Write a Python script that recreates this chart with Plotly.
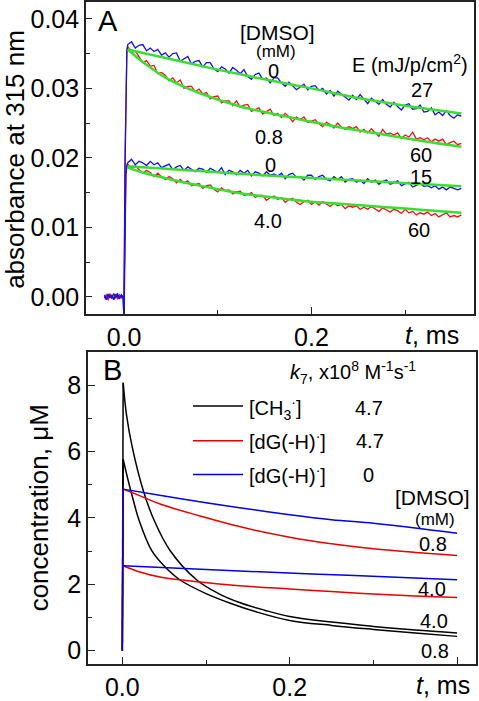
import numpy as np
import plotly.graph_objects as go

FONT = "Liberation Sans, Arial, sans-serif"
W, H = 479, 701

# ---------------- Panel A data (absorbance x 1e3, mOD) ----------------
t_pre = [-0.021, -0.019, -0.017, -0.015, -0.013, -0.011, -0.009, -0.007, -0.005, -0.003, -0.001]
t_rise = [0.0, 0.001, 0.002, 0.003]
t_main = np.round(np.arange(1, 91) * 0.004, 3).tolist()
t_A = t_pre + t_rise + t_main

blue_0_E27 = [0.2, -0.3, 0.4, -0.1, 0.3, -0.4, 0.1, 0.5, -0.2, 0.2, -0.1,
              -3.5, 18.0, 31.0, 35.5,
              36.3, 36.7, 35.8, 36.2, 36.3, 35.4, 35.8, 35.3, 35.6, 34.8,
              35.1, 34.5, 35.0, 35.1, 33.9, 34.3, 34.6, 33.5, 33.9, 34.0,
              33.1, 33.7, 33.7, 32.8, 32.4, 33.1, 32.8, 32.2, 33.0, 32.6,
              32.1, 32.7, 31.7, 31.3, 32.0, 32.2, 31.3, 31.5, 30.8, 31.5,
              31.5, 30.8, 30.3, 30.9, 30.3, 29.8, 30.2, 30.6, 29.8, 30.3,
              30.4, 29.7, 30.0, 29.2, 29.7, 28.9, 29.6, 29.2, 28.7, 28.3,
              29.0, 28.4, 29.1, 28.4, 27.8, 28.6, 28.2, 27.7, 28.4, 27.7,
              27.3, 28.0, 27.4, 26.9, 27.6, 27.8, 27.0, 27.1, 27.6, 26.6,
              26.7, 27.2, 26.2, 26.6, 26.1, 26.8, 26.1, 25.7, 26.2, 26.0]

red_08_E60 = [-0.2, 0.3, -0.1, 0.4, 0.0, -0.3, 0.2, -0.1, 0.3, -0.2, 0.1,
              0.0, 20.0, 31.5, 35.0,
              36.0, 35.1, 35.4, 34.5, 33.7, 34.0, 33.2, 33.3, 32.1, 32.3,
              31.9, 31.1, 31.5, 30.8, 31.2, 30.0, 30.3, 30.3, 29.5, 29.9,
              29.2, 29.4, 28.5, 28.8, 28.9, 27.9, 28.2, 28.2, 27.5, 28.2,
              27.3, 27.6, 27.7, 26.7, 26.9, 27.2, 26.3, 26.7, 27.0, 26.1,
              26.4, 25.8, 26.4, 25.9, 25.2, 25.9, 25.5, 25.9, 25.1, 25.3,
              25.5, 24.9, 24.5, 25.1, 24.8, 24.3, 25.0, 24.4, 24.1, 24.5,
              24.2, 24.5, 23.7, 24.1, 23.6, 24.2, 23.7, 23.1, 24.1, 23.4,
              23.6, 23.3, 23.6, 22.8, 23.3, 23.0, 23.7, 22.7, 22.9, 22.6,
              22.9, 22.3, 22.7, 22.4, 22.7, 21.9, 22.2, 22.4, 21.9, 22.1]

blue_0_E15 = [0.1, -0.4, 0.3, 0.0, -0.2, 0.5, -0.1, 0.2, -0.3, 0.3, 0.0,
              -3.5, 10.0, 17.5, 19.0,
              19.3, 19.8, 19.0, 19.5, 19.3, 18.9, 19.5, 19.0, 19.3, 18.6,
              18.9, 19.1, 18.3, 18.7, 18.9, 18.2, 18.7, 18.4, 18.0, 18.5,
              18.4, 17.9, 18.5, 18.2, 17.9, 18.6, 17.6, 18.2, 18.0, 17.6,
              18.2, 17.8, 18.2, 17.4, 18.0, 17.8, 17.4, 18.0, 17.5, 17.7,
              17.4, 17.8, 17.0, 17.6, 17.8, 17.2, 17.3, 16.8, 17.5, 17.5,
              16.9, 17.3, 17.5, 16.9, 16.7, 17.3, 16.9, 17.3, 16.5, 16.9,
              17.0, 16.5, 16.8, 16.3, 17.0, 16.5, 16.8, 16.2, 16.6, 16.8,
              16.2, 16.4, 16.7, 16.0, 16.2, 16.5, 15.8, 16.0, 16.3, 15.9,
              16.0, 15.7, 16.0, 15.5, 15.8, 15.4, 15.8, 15.6, 15.4, 15.6]

red_40_E60 = [0.3, -0.1, -0.4, 0.2, 0.1, -0.2, 0.4, -0.3, 0.0, 0.2, -0.2,
              0.0, 10.0, 17.5, 18.8,
              19.1, 18.5, 18.9, 18.3, 17.8, 18.2, 17.9, 17.3, 17.8, 17.3,
              16.9, 17.3, 17.0, 16.4, 16.9, 16.4, 16.7, 16.0, 16.2, 16.3,
              15.6, 16.0, 16.1, 15.5, 15.1, 15.7, 15.3, 15.4, 14.8, 15.1,
              15.2, 14.6, 14.7, 15.0, 14.3, 14.6, 14.6, 13.9, 14.3, 14.5,
              14.0, 14.3, 13.6, 14.0, 14.2, 13.6, 13.3, 13.7, 13.9, 13.3,
              13.7, 13.2, 13.7, 13.3, 13.0, 13.5, 13.1, 13.3, 12.7, 13.1,
              12.9, 13.1, 12.6, 12.9, 12.6, 13.0, 12.7, 12.3, 12.8, 12.5,
              12.2, 12.6, 12.4, 12.0, 12.6, 12.1, 12.3, 11.8, 12.1, 11.9,
              12.2, 11.7, 12.0, 11.5, 11.8, 12.1, 11.5, 11.7, 11.5, 11.8]

# fits (mOD)
fit_t_blue_E27 = [0.004, 0.03, 0.06, 0.1, 0.15, 0.2, 0.25, 0.3, 0.36]
fit_blue_E27 = [35.6, 34.8, 33.9, 32.7, 31.3, 30.0, 28.6, 27.5, 26.4]
fit_t_red_E60 = [0.004, 0.02, 0.046, 0.081, 0.124, 0.16, 0.2, 0.23, 0.28, 0.32, 0.36]
fit_red_E60 = [35.6, 33.8, 31.4, 29.3, 27.4, 26.3, 25.2, 24.4, 23.3, 22.4, 21.6]
fit_t_blue_E15 = [0.004, 0.124, 0.24, 0.36]
fit_blue_E15 = [18.8, 17.7, 16.8, 15.9]
fit_t_red_40 = [0.004, 0.02, 0.05, 0.085, 0.124, 0.16, 0.2, 0.24, 0.28, 0.32, 0.36]
fit_red_40 = [18.6, 17.9, 16.9, 15.9, 14.9, 14.3, 13.7, 13.3, 12.9, 12.5, 12.1]

# ---------------- Panel B data (concentration, uM) ----------------
t_ch3_08 = [0, 0.001, 0.007, 0.013, 0.020, 0.035, 0.05, 0.069, 0.1, 0.129, 0.16, 0.2, 0.25, 0.3, 0.35, 0.4]
c_ch3_08 = [0, 5.77, 5.13, 4.55, 3.93, 3.02, 2.55, 2.13, 1.72, 1.43, 1.17, 0.91, 0.76, 0.64, 0.53, 0.43]
t_ch3_40 = [0, 0.001, 0.005, 0.012, 0.025, 0.038, 0.057, 0.089, 0.115, 0.14, 0.17, 0.2, 0.25, 0.3, 0.35, 0.4]
c_ch3_40 = [0, 8.08, 7.11, 6.12, 4.83, 3.93, 3.02, 2.13, 1.72, 1.45, 1.22, 1.03, 0.86, 0.73, 0.62, 0.53]
t_dg_k47_08 = [0, 0.001, 0.02, 0.045, 0.093, 0.14, 0.2, 0.25, 0.3, 0.35, 0.4]
c_dg_k47_08 = [0, 4.87, 4.68, 4.42, 4.06, 3.74, 3.42, 3.22, 3.07, 2.96, 2.87]
t_dg_k47_40 = [0, 0.001, 0.02, 0.045, 0.093, 0.14, 0.2, 0.25, 0.3, 0.35, 0.4]
c_dg_k47_40 = [0, 2.56, 2.38, 2.22, 2.07, 1.96, 1.86, 1.78, 1.71, 1.65, 1.60]
t_dg_k0_08 = [0, 0.001, 0.05, 0.1, 0.14, 0.2, 0.25, 0.3, 0.35, 0.4]
c_dg_k0_08 = [0, 4.87, 4.66, 4.46, 4.31, 4.10, 3.95, 3.84, 3.70, 3.54]
t_dg_k0_40 = [0, 0.001, 0.14, 0.27, 0.4]
c_dg_k0_40 = [0, 2.56, 2.40, 2.27, 2.14]

# tick labels
yA_vals = [0.0, 0.01, 0.02, 0.03, 0.04]
yA_text = ["0.00", "0.01", "0.02", "0.03", "0.04"]
yB_vals = [0, 2, 4, 6, 8]
yB_text = ["0", "2", "4", "6", "8"]

RED = "rgb(235,20,20)"
BLUE = "rgb(20,20,225)"
GREEN = "rgb(60,220,50)"
BRED = "rgb(230,0,0)"
BBLUE = "rgb(0,0,225)"

fig = go.Figure()


def add_line(x, y, color, width, xa, ya, shape="linear", smoothing=1.0):
    ln = dict(color=color, width=width, shape=shape)
    if shape == "spline":
        ln["smoothing"] = smoothing
    fig.add_trace(go.Scatter(x=x, y=y, mode="lines", line=ln, xaxis=xa, yaxis=ya,
                             showlegend=False, hoverinfo="skip"))


def od(v):
    return [a / 1000.0 for a in v]


# Panel A traces
add_line(t_A, od(red_08_E60), RED, 1.3, "x", "y")
add_line(t_A, od(red_40_E60), RED, 1.3, "x", "y")
add_line(t_A, od(blue_0_E27), BLUE, 1.3, "x", "y")
add_line(t_A, od(blue_0_E15), BLUE, 1.3, "x", "y")
add_line(fit_t_blue_E27, od(fit_blue_E27), GREEN, 2.5, "x", "y", "spline")
add_line(fit_t_red_E60, od(fit_red_E60), GREEN, 2.5, "x", "y", "spline")
add_line(fit_t_blue_E15, od(fit_blue_E15), GREEN, 2.5, "x", "y", "spline")
add_line(fit_t_red_40, od(fit_red_40), GREEN, 2.5, "x", "y", "spline")

# Panel B traces: vertical rise (first two points) + smooth decay
for tt, cc, col in [(t_ch3_40, c_ch3_40, "black"), (t_ch3_08, c_ch3_08, "black"),
                    (t_dg_k47_08, c_dg_k47_08, BRED), (t_dg_k47_40, c_dg_k47_40, BRED),
                    (t_dg_k0_08, c_dg_k0_08, BBLUE), (t_dg_k0_40, c_dg_k0_40, BBLUE)]:
    add_line(tt[1:], cc[1:], col, 1.5, "x2", "y2", "spline", 1.0)
for tt, cc, col in [(t_ch3_40, c_ch3_40, "black"), (t_ch3_08, c_ch3_08, "black"),
                    (t_dg_k47_08, c_dg_k47_08, BRED), (t_dg_k0_08, c_dg_k0_08, BBLUE)]:
    add_line(tt[:2], cc[:2], col, 1.5, "x2", "y2")

axis_common = dict(showline=True, mirror=True, linecolor="#222", linewidth=1.6,
                   ticks="inside", tickcolor="#222", tickwidth=1.3, showgrid=False,
                   zeroline=False, tickfont=dict(family=FONT, size=25, color="black"))

fig.update_layout(
    width=W, height=H, margin=dict(l=0, r=0, t=0, b=0),
    paper_bgcolor="white", plot_bgcolor="white", showlegend=False,
    font=dict(family=FONT, color="black"),
    xaxis=dict(domain=[86 / W, 474 / W], range=[-0.0406, 0.3735], anchor="y",
               tickmode="array", tickvals=[0, 0.2], ticktext=["0.0", "0.2"], ticklen=7,
               minor=dict(tickvals=[0.1, 0.3], ticklen=4, ticks="inside", tickcolor="#222"),
               **axis_common),
    yaxis=dict(domain=[1 - 315 / H, 1 - 1 / H], range=[-0.00243, 0.04243], anchor="x",
               tickmode="array", tickvals=yA_vals, ticktext=yA_text, ticklen=6,
               minor=dict(tickvals=[0.005, 0.015, 0.025, 0.035], ticklen=4, ticks="inside", tickcolor="#222"),
               **axis_common),
    xaxis2=dict(domain=[88 / W, 476 / W], range=[-0.041, 0.4226], anchor="y2",
                tickmode="array", tickvals=[0, 0.2, 0.4], ticktext=["0.0", "0.2", ""], ticklen=7,
                minor=dict(tickvals=[0.1, 0.3], ticklen=4, ticks="inside", tickcolor="#222"),
                **axis_common),
    yaxis2=dict(domain=[1 - 668 / H, 1 - 354 / H], range=[-0.41, 8.99], anchor="x2",
                tickmode="array", tickvals=yB_vals, ticktext=yB_text, ticklen=7,
                minor=dict(tickvals=[1, 3, 5, 7], ticklen=4, ticks="inside", tickcolor="#222"),
                **axis_common),
)


def ann(text, x, y, size, xanchor="center", angle=0):
    fig.add_annotation(text=text, x=x / W, y=1 - y / H, xref="paper", yref="paper",
                       showarrow=False, xanchor=xanchor, yanchor="middle", textangle=angle,
                       font=dict(family=FONT, size=size, color="black"))


# Panel A labels
ann("A", 108, 20, 29)
ann("absorbance at 315 nm", 15, 160, 26, angle=-90)
ann("[DMSO]", 277, 32, 21)
ann("(mM)", 276, 51, 17)
ann("0", 273, 71, 20)
ann("E (mJ/p/cm<sup>2</sup>)", 410, 63, 20)
ann("27", 422, 90, 20)
ann("0.8", 269, 137, 20)
ann("60", 421, 155, 20)
ann("0", 270, 165, 20)
ann("15", 421, 177, 20)
ann("4.0", 268, 222, 20)
ann("60", 419, 231, 20)
ann("<i>t</i>, ms", 432, 336, 25)

# Panel B labels
ann("B", 112, 372, 29)
ann("concentration, \u03bcM", 39, 511, 26, angle=-90)
ann("<i>k</i><sub>7</sub>, x10<sup>8</sup> M<sup>-1</sup>s<sup>-1</sup>", 353, 374, 20)
ann("[CH<sub>3</sub><sup>\u00b7</sup>]", 247, 410, 20, xanchor="left")
ann("4.7", 369, 410, 20)
ann("[dG(-H)<sup>\u00b7</sup>]", 247, 443, 20, xanchor="left")
ann("4.7", 370, 443, 20)
ann("[dG(-H)<sup>\u00b7</sup>]", 247, 477, 20, xanchor="left")
ann("0", 368, 477, 20)
ann("[DMSO]", 432, 500, 21)
ann("(mM)", 435, 522, 17)
ann("0.8", 433, 547, 20)
ann("4.0", 432, 592, 20)
ann("4.0", 434, 624, 20)
ann("0.8", 435, 655, 20)
ann("<i>t</i>, ms", 443, 689, 25)

# legend sample lines
for yy, col in [(408, "black"), (443, BRED), (477, BBLUE)]:
    fig.add_shape(type="line", xref="paper", yref="paper", x0=193 / W, x1=243 / W,
                  y0=1 - yy / H, y1=1 - yy / H, line=dict(color=col, width=1.5))

fig.write_html("out.html", config={"displayModeBar": False},
               post_script="document.body.style.margin='0';document.body.style.overflow='hidden';")
